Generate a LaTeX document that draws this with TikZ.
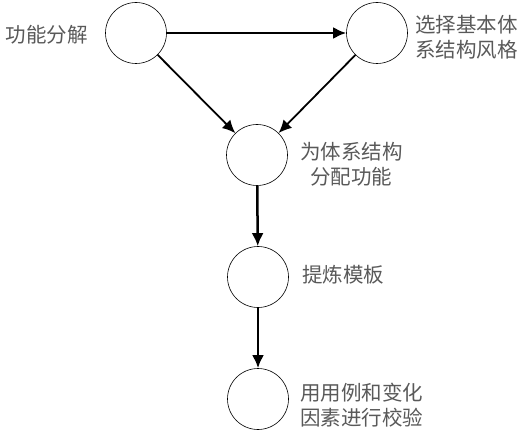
\documentclass[tikz,border=0pt]{standalone}
\usepackage{fontspec}
\newfontfamily\cjk{Noto Sans CJK SC}
\usetikzlibrary{arrows.meta,positioning}

\begin{document}
\begin{tikzpicture}[x=1pt,y=-1pt,
    stage/.style={draw,circle,line width=0.6pt,minimum size=61pt,inner sep=0pt},
    note/.style={font=\cjk\fontsize{20.5}{24.5}\selectfont,text=black!65,align=center,inner sep=0pt},
    flow/.style={line width=2.5pt,-{Latex[length=13pt,width=12pt]}}]
        \useasboundingbox (0,0) rectangle (528,433);
        \node[stage] (decomp) at (136,33) {};
        \node[stage] (style) at (377,33) {};
        \node[stage] (assign) at (257,155) {};
        \node[stage] (refine) at (258,277) {};
        \node[stage] (check) at (258,399) {};
        \node[note,anchor=east] (decomptxt) at (88,35) {功能分解};
        \node[note,anchor=west] (styletxt) at (415,37) {选择基本体\\系结构风格};
        \node[note,anchor=west] (assigntxt) at (300,164) {为体系结构\\分配功能};
        \node[note,anchor=west] (refinetxt) at (302,275) {提炼模板};
        \node[note,anchor=west] (checktxt) at (300,405) {用用例和变化\\因素进行校验};
        \draw[flow] (decomp) -- (style);
        \draw[flow,line width=1.8pt] (decomp) -- (assign);
        \draw[flow,line width=1.8pt] (style) -- (assign);
        \draw[flow] (assign) -- (refine);
        \draw[flow] (refine) -- (check);
      \end{tikzpicture}
\end{document}
